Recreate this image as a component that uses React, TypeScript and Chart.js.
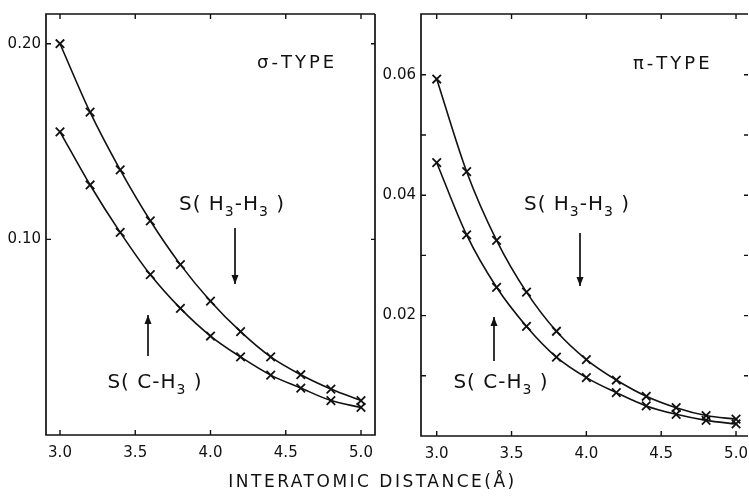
import React, { useEffect, useRef } from "react";
import { Chart, registerables } from "chart.js";

Chart.register(...registerables);

const FONT = "'DejaVu Sans', sans-serif";

// Interatomic distance (Å)
const distance = [3.0, 3.2, 3.4, 3.6, 3.8, 4.0, 4.2, 4.4, 4.6, 4.8, 5.0];
// sigma-type overlap integrals
const sigmaHH = [0.2, 0.165, 0.1355, 0.1095, 0.0871, 0.0684, 0.0528, 0.0399, 0.0308, 0.0235, 0.0176];
const sigmaCH = [0.155, 0.1278, 0.1036, 0.082, 0.0647, 0.0506, 0.0399, 0.0306, 0.024, 0.0176, 0.0141];
// pi-type overlap integrals
const piHH = [0.0593, 0.0439, 0.0325, 0.0239, 0.0174, 0.0127, 0.0093, 0.0066, 0.0047, 0.0034, 0.0028];
const piCH = [0.0454, 0.0334, 0.0247, 0.0182, 0.0131, 0.0097, 0.0072, 0.005, 0.0036, 0.0026, 0.002];

const xTicks = [3.0, 3.5, 4.0, 4.5, 5.0];
const sigmaYLabels = [0.1, 0.2];
const sigmaYMarks = [0.1, 0.2];
const piYLabels = [0.02, 0.04, 0.06];
const piYMarks = [0.01, 0.02, 0.03, 0.04, 0.05, 0.06];

type Part = [string, boolean];
const labelHH: Part[] = [["S( H", false], ["3", true], ["-H", false], ["3", true], [" )", false]];
const labelCH: Part[] = [["S( C-H", false], ["3", true], [" )", false]];

interface PanelCfg {
  width: number;
  height: number;
  left: number;
  yAxisWidth: number;
  padTop: number;
  padRight: number;
  xMin: number;
  xMax: number;
  yMax: number;
  hh: number[];
  ch: number[];
  yLabels: number[];
  yMarks: number[];
  rightBorder: boolean;
  title: string;
  titlePos: [number, number];
  hhPos: [number, number];
  chPos: [number, number];
  downArrow: [number, number, number];
  upArrow: [number, number, number];
}

function drawRich(ctx: CanvasRenderingContext2D, parts: Part[], cx: number, cy: number, size: number) {
  const main = `${size}px ${FONT}`;
  const sub = `${Math.round(size * 0.68)}px ${FONT}`;
  let w = 0;
  for (const [t, s] of parts) {
    ctx.font = s ? sub : main;
    w += ctx.measureText(t).width;
  }
  let x = cx - w / 2;
  ctx.textAlign = "left";
  ctx.textBaseline = "middle";
  for (const [t, s] of parts) {
    ctx.font = s ? sub : main;
    ctx.fillText(t, x, s ? cy + size * 0.38 : cy);
    x += ctx.measureText(t).width;
  }
}

function drawArrow(ctx: CanvasRenderingContext2D, x: number, y1: number, y2: number) {
  ctx.beginPath();
  ctx.moveTo(x, y1);
  ctx.lineTo(x, y2);
  ctx.stroke();
  const dir = y2 > y1 ? 1 : -1;
  ctx.beginPath();
  ctx.moveTo(x, y2);
  ctx.lineTo(x - 3.5, y2 - dir * 9);
  ctx.lineTo(x + 3.5, y2 - dir * 9);
  ctx.closePath();
  ctx.fill();
}

function makePlugin(cfg: PanelCfg) {
  return {
    id: "frameDecor",
    afterDraw(chart: any) {
      const { ctx, chartArea: a, scales } = chart;
      const x = scales.x;
      const y = scales.y;
      ctx.save();
      ctx.strokeStyle = "#111";
      ctx.fillStyle = "#111";
      ctx.lineWidth = 1.7;
      ctx.beginPath();
      ctx.moveTo(a.right, a.top);
      ctx.lineTo(a.left, a.top);
      ctx.lineTo(a.left, a.bottom);
      ctx.lineTo(a.right, a.bottom);
      if (cfg.rightBorder) ctx.lineTo(a.right, a.top);
      ctx.stroke();
      ctx.lineWidth = 1.4;
      ctx.beginPath();
      for (const v of xTicks) {
        const px = x.getPixelForValue(v);
        ctx.moveTo(px, a.bottom);
        ctx.lineTo(px, a.bottom - 5);
        ctx.moveTo(px, a.top);
        ctx.lineTo(px, a.top + 5);
      }
      for (const v of cfg.yMarks) {
        const py = y.getPixelForValue(v);
        ctx.moveTo(a.left, py);
        ctx.lineTo(a.left + 5, py);
        ctx.moveTo(a.right, py);
        ctx.lineTo(a.right - 4, py);
      }
      ctx.stroke();

      ctx.textBaseline = "middle";
      ctx.textAlign = "left";
      ctx.font = `18px ${FONT}`;
      (ctx as any).letterSpacing = "3px";
      ctx.fillText(cfg.title, cfg.titlePos[0], cfg.titlePos[1]);
      (ctx as any).letterSpacing = "1px";
      drawRich(ctx, labelHH, cfg.hhPos[0], cfg.hhPos[1], 20);
      drawRich(ctx, labelCH, cfg.chPos[0], cfg.chPos[1], 20);
      (ctx as any).letterSpacing = "0px";
      ctx.lineWidth = 1.7;
      drawArrow(ctx, cfg.downArrow[0], cfg.downArrow[1], cfg.downArrow[2]);
      drawArrow(ctx, cfg.upArrow[0], cfg.upArrow[1], cfg.upArrow[2]);
      ctx.restore();
    },
  };
}

function makeConfig(cfg: PanelCfg): any {
  const ds = (label: string, values: number[]) => ({
    label,
    data: distance.map((d, i) => ({ x: d, y: values[i] })),
    borderColor: "#111",
    backgroundColor: "#111",
    borderWidth: 1.6,
    pointStyle: "crossRot",
    pointRadius: 6,
    pointBorderWidth: 1.8,
    pointBorderColor: "#111",
    cubicInterpolationMode: "monotone",
    fill: false,
  });
  return {
    type: "line",
    data: { datasets: [ds("S(H3-H3)", cfg.hh), ds("S(C-H3)", cfg.ch)] },
    options: {
      animation: false,
      responsive: false,
      devicePixelRatio: 1,
      layout: { padding: { top: cfg.padTop, right: cfg.padRight, left: 0, bottom: 0 } },
      plugins: { legend: { display: false }, tooltip: { enabled: false } },
      scales: {
        x: {
          type: "linear",
          min: cfg.xMin,
          max: cfg.xMax,
          grid: { display: false, drawTicks: false },
          border: { display: false },
          afterBuildTicks: (s: any) => {
            s.ticks = xTicks.map((v) => ({ value: v }));
          },
          afterFit: (s: any) => {
            s.height = 35;
          },
          ticks: {
            padding: 9,
            color: "#111",
            font: { family: FONT, size: 15 },
            callback: (v: number) => v.toFixed(1),
            maxRotation: 0,
            autoSkip: false,
          },
        },
        y: {
          type: "linear",
          min: 0,
          max: cfg.yMax,
          grid: { display: false, drawTicks: false },
          border: { display: false },
          afterBuildTicks: (s: any) => {
            s.ticks = cfg.yLabels.map((v) => ({ value: v }));
          },
          afterFit: (s: any) => {
            s.width = cfg.yAxisWidth;
          },
          ticks: {
            padding: 5,
            color: "#111",
            font: { family: FONT, size: 15 },
            callback: (v: number) => v.toFixed(2),
            autoSkip: false,
          },
        },
      },
    },
    plugins: [makePlugin(cfg)],
  };
}

const sigmaPanel: PanelCfg = {
  width: 385,
  height: 470,
  left: 0,
  yAxisWidth: 46,
  padTop: 12,
  padRight: 10,
  xMin: 2.907,
  xMax: 5.093,
  yMax: 0.2152,
  hh: sigmaHH,
  ch: sigmaCH,
  yLabels: sigmaYLabels,
  yMarks: sigmaYMarks,
  rightBorder: true,
  title: "σ-TYPE",
  titlePos: [257, 63],
  hhPos: [232, 205],
  chPos: [155, 383],
  downArrow: [235, 228, 284],
  upArrow: [148, 356, 315],
};

const piPanel: PanelCfg = {
  width: 400,
  height: 471,
  left: 380,
  yAxisWidth: 41,
  padTop: 13,
  padRight: 32,
  xMin: 2.895,
  xMax: 5.08,
  yMax: 0.0701,
  hh: piHH,
  ch: piCH,
  yLabels: piYLabels,
  yMarks: piYMarks,
  rightBorder: false,
  title: "π-TYPE",
  titlePos: [253, 64],
  hhPos: [197, 205],
  chPos: [121, 383],
  downArrow: [200, 233, 286],
  upArrow: [114, 361, 317],
};

function Panel({ cfg }: { cfg: PanelCfg }) {
  const ref = useRef<HTMLCanvasElement>(null);
  useEffect(() => {
    if (!ref.current) return;
    const chart = new Chart(ref.current, makeConfig(cfg));
    return () => chart.destroy();
  }, [cfg]);
  return (
    <canvas
      ref={ref}
      width={cfg.width}
      height={cfg.height}
      style={{ position: "absolute", left: cfg.left, top: 0, width: cfg.width, height: cfg.height }}
    />
  );
}

export default function App() {
  return (
    <div
      style={{
        position: "absolute",
        left: 0,
        top: 0,
        width: 749,
        height: 499,
        background: "#fff",
        overflow: "hidden",
      }}
    >
      <Panel cfg={sigmaPanel} />
      <Panel cfg={piPanel} />
      <div
        style={{
          position: "absolute",
          left: 0,
          top: 471,
          width: 745,
          textAlign: "center",
          fontFamily: FONT,
          fontSize: 17,
          letterSpacing: "2.5px",
          color: "#111",
          lineHeight: "20px",
        }}
      >
        INTERATOMIC DISTANCE(Å)
      </div>
    </div>
  );
}
